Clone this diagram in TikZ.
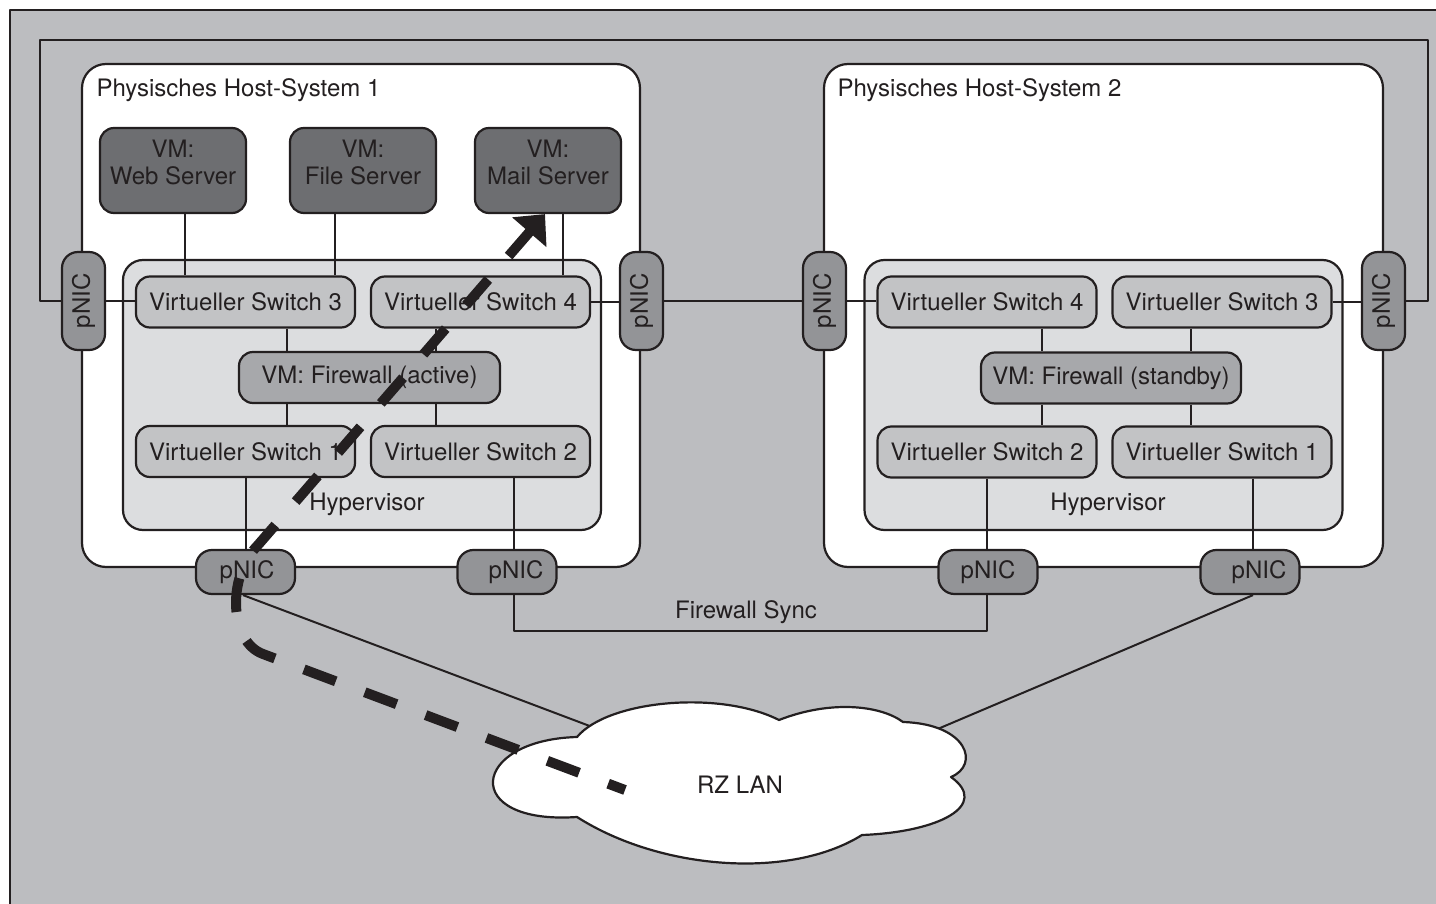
\documentclass[tikz,border=0pt]{standalone}
\usepackage{fontspec}
\setmainfont{TeX Gyre Heros}
\usetikzlibrary{arrows.meta}
\definecolor{ink}{HTML}{231F20}
\definecolor{bggray}{HTML}{BCBDC0}
\definecolor{hypgray}{HTML}{DCDDDF}
\definecolor{swgray}{HTML}{C2C3C5}
\definecolor{fwgray}{HTML}{A7A8AB}
\definecolor{nicgray}{HTML}{939497}
\definecolor{vmgray}{HTML}{6D6E71}
% two-line VM caption, set a little above the middle of its box
\newcommand{\vmtext}[1]{\parbox[c][85pt][c]{146pt}{\centering VM:\\#1\par\vspace{16pt}}}
\begin{document}
\begin{tikzpicture}[x=1pt,y=-1pt,
  font=\fontsize{24}{27}\selectfont, text=ink, line join=round,
  box/.style={draw=ink, line width=2.2pt, rounded corners=14pt, inner sep=0pt, align=center},
  hostbox/.style={box, fill=white, rounded corners=24pt, minimum height=503pt},
  hypbox/.style={box, fill=hypgray, rounded corners=20pt, minimum width=478pt, minimum height=270pt},
  vm/.style={box, fill=vmgray, minimum width=146pt, minimum height=85pt},
  vswitch/.style={box, fill=swgray, minimum width=219pt, minimum height=51pt},
  fw/.style={box, fill=fwgray, minimum width=261pt, minimum height=51pt},
  nicv/.style={box, fill=nicgray, minimum width=43pt, minimum height=98pt, rounded corners=16pt},
  nich/.style={box, fill=nicgray, minimum width=99pt, minimum height=44pt, rounded corners=16pt},
  link/.style={draw=ink, line width=2pt},
  flow/.style={draw=ink, line width=10pt, dash pattern=on 34pt off 31pt, dash phase=16pt,
    -{Triangle[length=24pt,width=44pt]}}]

% canvas and frame
\useasboundingbox (0,0) rectangle (1436,904);
\fill[bggray] (10,10) rectangle (1436,904);
\draw[ink, line width=2.2pt] (1436,10) -- (10,10) -- (10,904);

% host systems
\node[hostbox, minimum width=558pt] (host1) at (361,315.5) {};
\node[hostbox, minimum width=559pt] (host2) at (1103.5,315.5) {};
\node[anchor=west] (host1lbl) at (93,90) {Physisches Host-System 1};
\node[anchor=west] (host2lbl) at (834,90) {Physisches Host-System 2};

% hypervisors
\node[hypbox] (hyp1) at (362,395) {};
\node[hypbox] (hyp2) at (1103.5,395) {};
\node (hyp1lbl) at (367,504) {Hypervisor};
\node (hyp2lbl) at (1108,504) {Hypervisor};

% virtual machines
\node[vm] (vmweb)  at (173,170.5) {\vmtext{Web Server}};
\node[vm] (vmfile) at (363,170.5) {\vmtext{File Server}};
\node[vm] (vmmail) at (548,170.5) {\vmtext{Mail Server}};

% host 1 switches and firewall
\node[vswitch] (vsA3) at (245.5,302) {Virtueller Switch 3};
\node[vswitch] (vsA4) at (480.5,302) {Virtueller Switch 4};
\node[fw] (fwA) at (369.5,377.5) {VM: Firewall (active)};
\node[vswitch] (vsA1) at (245.5,451.5) {Virtueller Switch 1};
\node[vswitch] (vsA2) at (480.5,451.5) {Virtueller Switch 2};

% host 2 switches and firewall
\node[vswitch] (vsB4) at (987,302) {Virtueller Switch 4};
\node[vswitch] (vsB3) at (1222,302) {Virtueller Switch 3};
\node[fw, minimum width=260pt] (fwB) at (1111,378) {VM: Firewall (standby)};
\node[vswitch] (vsB2) at (987,452) {Virtueller Switch 2};
\node[vswitch] (vsB1) at (1222,452) {Virtueller Switch 1};

% physical NICs on the side walls
\node[nicv] (nicL1) at (83.5,301)   {\rotatebox{90}{pNIC}};
\node[nicv] (nicR1) at (641.5,301)  {\rotatebox{90}{pNIC}};
\node[nicv] (nicL2) at (824.5,301)  {\rotatebox{90}{pNIC}};
\node[nicv] (nicR2) at (1383.5,301) {\rotatebox{90}{pNIC}};

% physical NICs on the bottom walls
\node[nich] (nicA) at (245.5,572) {\hspace*{3pt}pNIC};
\node[nich] (nicB) at (507,572)   {\hspace*{18pt}pNIC};
\node[nich] (nicC) at (988,572)   {pNIC};
\node[nich] (nicD) at (1250,572)  {\hspace*{18pt}pNIC};

% VM uplinks
\draw[link] ([xshift=12pt]vmweb.south) -- ([xshift=-60.5pt]vsA3.north);
\draw[link] ([xshift=-28pt]vmfile.south) -- ([xshift=89.5pt]vsA3.north);
\draw[link] ([xshift=15pt]vmmail.south) -- ([xshift=82.5pt]vsA4.north);

% host 1 internal links
\draw[link] ([xshift=41.5pt]vsA3.south) -- ([xshift=-82.5pt]fwA.north);
\draw[link] ([xshift=-44.5pt]vsA4.south) -- ([xshift=66.5pt]fwA.north);
\draw[link] ([xshift=-82.5pt]fwA.south) -- ([xshift=41.5pt]vsA1.north);
\draw[link] ([xshift=66.5pt]fwA.south) -- ([xshift=-44.5pt]vsA2.north);
\draw[link] (vsA1.south) -- (nicA.north);
\draw[link] ([xshift=33.5pt]vsA2.south) -- ([xshift=7pt]nicB.north);

% host 2 internal links
\draw[link] ([xshift=54.5pt]vsB4.south) -- ([xshift=-69.5pt]fwB.north);
\draw[link] ([xshift=-31pt]vsB3.south) -- ([xshift=80pt]fwB.north);
\draw[link] ([xshift=-69.5pt]fwB.south) -- ([xshift=54.5pt]vsB2.north);
\draw[link] ([xshift=80pt]fwB.south) -- ([xshift=-31pt]vsB1.north);
\draw[link] (vsB2.south) -- ([xshift=-1pt]nicC.north);
\draw[link] ([xshift=31pt]vsB1.south) -- ([xshift=3pt]nicD.north);

% side NIC links
\draw[link] (nicL1.east) -- (nicL1.east -| vsA3.west);
\draw[link] (vsA4.east) -- (vsA4.east -| nicR1.west);
\draw[link] (nicR1.east) -- (nicR1.east -| nicL2.west);
\draw[link] (nicL2.east) -- (nicL2.east -| vsB4.west);
\draw[link] (vsB3.east) -- (vsB3.east -| nicR2.west);

% outer loop between the two hosts
\coordinate (loopTL) at (40,40);
\coordinate (loopTR) at (1428,40);
\draw[link] (nicL1.west) -| (loopTL) -- (loopTR) |- (nicR2.east);

% firewall sync
\coordinate (syncmid) at (750,631);
\draw[link] ([xshift=7pt]nicB.south) |- (syncmid) -| ([xshift=-1pt]nicC.south);
\node (synclbl) at (746,612) {Firewall Sync};

% uplinks to the LAN
\coordinate (lanL) at (640,745);
\coordinate (lanR) at (900,745);
\draw[link] ([xshift=-2.5pt]nicA.south) -- (lanL);
\draw[link] ([xshift=3pt]nicD.south) -- (lanR);

% LAN cloud
\draw[ink, line width=2.2pt, fill=white]
  (577,737) .. controls (608,700) and (720,690) .. (779,720)
  .. controls (830,700) and (880,705) .. (903,722)
  .. controls (968,724) and (980,765) .. (951,777)
  .. controls (990,805) and (940,832) .. (862,835)
  .. controls (790,880) and (660,870) .. (577,817)
  .. controls (460,825) and (470,740) .. cycle;
\node (lan) at (740,785) {RZ LAN};

% traffic path from the LAN to the mail server
\coordinate (p0) at (625,790);
\coordinate (p1) at (263,654);
\coordinate (p2) at (258,545);
\draw[flow] (p0) -- (p1) .. controls (230,642) and (226,578) .. (p2) -- ([xshift=-3pt]vmmail.south);
\end{tikzpicture}
\end{document}
